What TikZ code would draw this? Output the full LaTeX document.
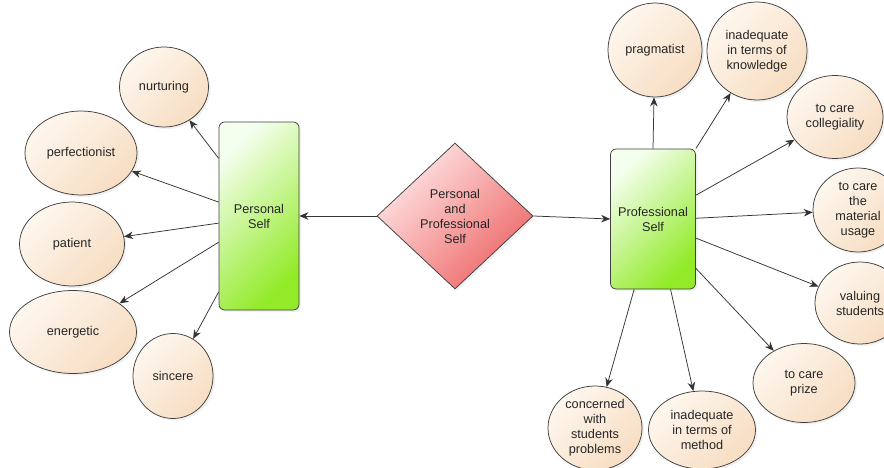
\documentclass[tikz,border=0pt]{standalone}
\usepackage{fontspec}
\setmainfont{Liberation Sans}
\usetikzlibrary{shapes.geometric, shadows, arrows.meta}

\definecolor{cream}{RGB}{254,247,238}
\definecolor{peach}{RGB}{247,221,194}
\definecolor{mint}{RGB}{244,255,238}
\definecolor{lime}{RGB}{146,234,40}
\definecolor{blush}{RGB}{255,230,230}
\definecolor{rose}{RGB}{238,104,104}

\begin{document}
\begin{tikzpicture}[x=1pt, y=-1pt,
			every node/.style={font=\fontsize{12.7}{15}\selectfont, align=center, text=black!85},
			trait/.style 2 args={ellipse, draw=black!75, inner sep=0pt, top color=cream, bottom color=peach, shading angle=45,
				minimum width=#1pt, minimum height=#2pt, drop shadow={opacity=0.12, shadow xshift=2pt, shadow yshift=-2pt}},
			self/.style 2 args={rectangle, rounded corners=2mm, draw=black!75, top color=mint, bottom color=lime, shading angle=45,
				minimum width=#1pt, minimum height=#2pt, drop shadow={opacity=0.12, shadow xshift=2pt, shadow yshift=-2pt}},
			core/.style={diamond, draw=black!75, inner sep=0pt, top color=blush, bottom color=rose, shading angle=45,
				minimum width=156pt, minimum height=146pt, drop shadow={opacity=0.12, shadow xshift=2pt, shadow yshift=-2pt}},
			->, >={Stealth[length=9pt, width=7.5pt]}, line width=0.75pt, draw=black!80,
			]
			\clip (0,0) rectangle (884,468);
			
			% Mitte
			\node[core] (Both) at (455,216) {Personal\\and\\Professional\\Self};
			\node[self={80}{188}] (Personal) at (259,216) {Personal\\Self};
			\node[self={85}{140}] (Professional) at (653,219) {Professional\\Self};
			
			% links
			\node[trait={89}{80}] (Nurturing) at (164,87) {nurturing};
			\node[trait={112}{84}] (Perfectionist) at (81,153) {perfectionist};
			\node[trait={105}{84}] (Patient) at (72,244) {patient};
			\node[trait={127}{83}] (Energetic) at (73,332) {energetic};
			\node[trait={80}{85}] (Sincere) at (173,376) {sincere};
			
			% rechts
			\node[trait={94}{94}] (Pragmatist) at (655,50) {pragmatist};
			\node[trait={100}{98}] (Knowledge) at (757,51) {inadequate\\in terms of\\knowledge};
			\node[trait={96}{83}] (Collegiality) at (835,117) {to care\\collegiality};
			\node[trait={90}{84}] (Material) at (858,210) {to care\\the\\material\\usage};
			\node[trait={90}{82}] (Valuing) at (860,303) {valuing\\students};
			\node[trait={102}{79}] (Prize) at (804,383) {to care\\prize};
			\node[trait={107}{78}] (Method) at (702,430) {inadequate\\in terms of\\method};
			\node[trait={94}{84}] (Concerned) at (595,428) {concerned\\with\\students\\problems};
			
			% Pfeile
			\path
			(Both.west) edge (Personal.east)
			(Both.east) edge (Professional.west)
			(Personal.125) edge (Nurturing)
			(Personal.161) edge (Perfectionist)
			(Personal.190) edge (Patient)
			(Personal.213) edge (Energetic)
			(Personal.242) edge (Sincere)
			(Professional.north) edge (Pragmatist)
			(Professional.north east) edge (Knowledge)
			(Professional.29) edge (Collegiality)
			(Professional.1) edge (Material)
			(Professional.336) edge (Valuing)
			(Professional.311) edge (Prize)
			(Professional.284) edge (Method)
			(Professional.255) edge (Concerned)
			;
			
		\end{tikzpicture}
\end{document}
